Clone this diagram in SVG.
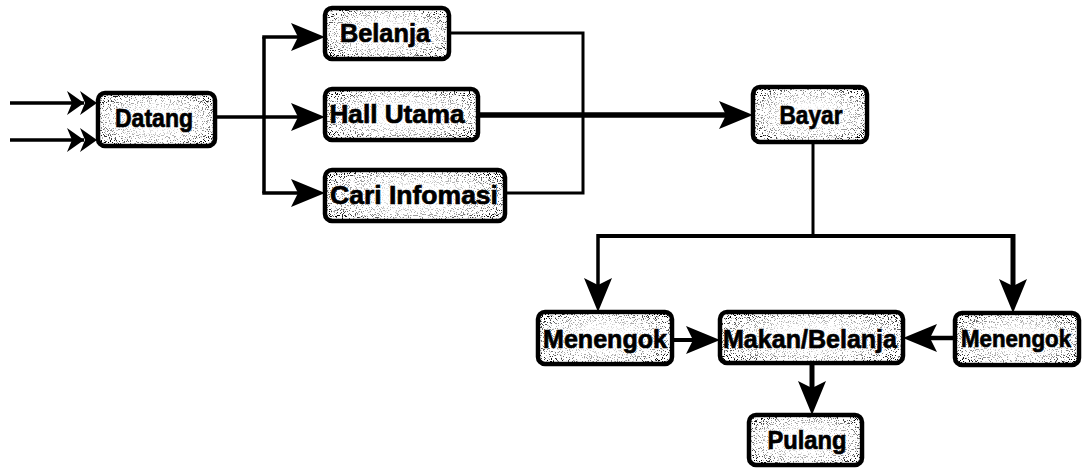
<svg xmlns="http://www.w3.org/2000/svg" width="1085" height="469" viewBox="0 0 1085 469">
  <style>
    .box { fill: #ffffff; stroke: #000; stroke-width: 4.5; }
    .tex { fill: #000; filter: url(#grain); }
    .lite { fill: url(#fade); }
    .lbl { font-family: "Liberation Sans", Arial, sans-serif; font-weight: bold; font-size: 26px; fill: #000; stroke: #000; stroke-width: 0.7; text-anchor: middle; }
    .ln { fill: none; stroke: #000; stroke-linejoin: miter; stroke-linecap: butt; }
  </style>
  <defs>
    <!-- speckled stipple used inside every box -->
    <filter id="grain" x="0" y="0" width="1" height="1">
      <feTurbulence type="fractalNoise" baseFrequency="0.85" numOctaves="2" seed="7" result="n"/>
      <feColorMatrix in="n" type="matrix" values="0 0 0 0 0  0 0 0 0 0  0 0 0 0 0  -14 0 0 0 6.0" result="dots"/>
      <feComposite in="dots" in2="SourceGraphic" operator="in"/>
    </filter>
    <!-- lightens the stipple toward the middle of a box -->
    <radialGradient id="fade" cx="0.5" cy="0.5" r="0.62">
      <stop offset="0.3" stop-color="#fff" stop-opacity="0.92"/>
      <stop offset="0.75" stop-color="#fff" stop-opacity="0.55"/>
      <stop offset="1" stop-color="#fff" stop-opacity="0"/>
    </radialGradient>
    <marker id="head" markerUnits="userSpaceOnUse" viewBox="-10 -16 38 32" markerWidth="38" markerHeight="32" refX="0" refY="0" orient="auto" overflow="visible">
      <path d="M-8,-14 L26,0 L-8,14 L-1,0 Z" fill="#000"/>
    </marker>
    <marker id="dbl" markerUnits="userSpaceOnUse" viewBox="-20 -13 36 26" markerWidth="36" markerHeight="26" refX="0" refY="0" orient="auto" overflow="visible">
      <path d="M-4,-12 L13,0 L-4,12 L1,0 Z M-17,-12 L0,0 L-17,12 L-12,0 Z" fill="#000"/>
    </marker>
  </defs>

  <g id="connectors">
    <!-- incoming -->
    <path class="ln" d="M10,103 H84" stroke-width="3.5" marker-end="url(#dbl)"/>
    <path class="ln" d="M10,140 H84" stroke-width="3.5" marker-end="url(#dbl)"/>
    <!-- Datang fan-out -->
    <path class="ln" d="M215,117 H299" stroke-width="3.5" marker-end="url(#head)"/>
    <path class="ln" d="M264,37 V193" stroke-width="3.5"/>
    <path class="ln" d="M262.25,37 H299" stroke-width="3.5" marker-end="url(#head)"/>
    <path class="ln" d="M262.25,193 H299" stroke-width="3.5" marker-end="url(#head)"/>
    <!-- merge to Bayar -->
    <path class="ln" d="M449,33 H583 V193 H505" stroke-width="3"/>
    <path class="ln" d="M478,115 H727" stroke-width="5.5" marker-end="url(#head)"/>
    <!-- Bayar split -->
    <path class="ln" d="M813,142 V236" stroke-width="3"/>
    <path class="ln" d="M598,236 H1013" stroke-width="4"/>
    <path class="ln" d="M598,234 V286" stroke-width="3.5" marker-end="url(#head)"/>
    <path class="ln" d="M1013,234 V287" stroke-width="5" marker-end="url(#head)"/>
    <!-- into Makan/Belanja -->
    <path class="ln" d="M672,340 H694" stroke-width="4" marker-end="url(#head)"/>
    <path class="ln" d="M955,338 H929" stroke-width="4.5" marker-end="url(#head)"/>
    <path class="ln" d="M812,363 V389" stroke-width="5" marker-end="url(#head)"/>
  </g>

  <g id="datang">
    <rect class="box" x="98" y="93" width="117" height="53" rx="7"/>
    <rect class="tex" x="100" y="95" width="113" height="49" rx="5"/>
    <rect class="lite" x="100" y="95" width="113" height="49" rx="5"/>
    <text class="lbl" x="154" y="127" textLength="78" lengthAdjust="spacingAndGlyphs">Datang</text>
  </g>
  <g id="belanja">
    <rect class="box" x="325" y="8" width="124" height="51" rx="7"/>
    <rect class="tex" x="327" y="10" width="120" height="47" rx="5"/>
    <rect class="lite" x="327" y="10" width="120" height="47" rx="5"/>
    <text class="lbl" x="385" y="42" textLength="90" lengthAdjust="spacingAndGlyphs">Belanja</text>
  </g>
  <g id="hall-utama">
    <rect class="box" x="325" y="89" width="153" height="51" rx="7"/>
    <rect class="tex" x="327" y="91" width="149" height="47" rx="5"/>
    <rect class="lite" x="327" y="91" width="149" height="47" rx="5"/>
    <text class="lbl" x="397" y="123" textLength="135" lengthAdjust="spacingAndGlyphs">Hall Utama</text>
  </g>
  <g id="cari-infomasi">
    <rect class="box" x="325" y="170" width="180" height="51" rx="7"/>
    <rect class="tex" x="327" y="172" width="176" height="47" rx="5"/>
    <rect class="lite" x="327" y="172" width="176" height="47" rx="5"/>
    <text class="lbl" x="414" y="204" textLength="168" lengthAdjust="spacingAndGlyphs">Cari Infomasi</text>
  </g>
  <g id="bayar">
    <rect class="box" x="753" y="87" width="114" height="55" rx="7"/>
    <rect class="tex" x="755" y="89" width="110" height="51" rx="5"/>
    <rect class="lite" x="755" y="89" width="110" height="51" rx="5"/>
    <text class="lbl" x="811" y="124" textLength="63" lengthAdjust="spacingAndGlyphs">Bayar</text>
  </g>
  <g id="menengok-kiri">
    <rect class="box" x="538" y="312" width="134" height="52" rx="7"/>
    <rect class="tex" x="540" y="314" width="130" height="48" rx="5"/>
    <rect class="lite" x="540" y="314" width="130" height="48" rx="5"/>
    <text class="lbl" x="605" y="348" textLength="124" lengthAdjust="spacingAndGlyphs">Menengok</text>
  </g>
  <g id="makan-belanja">
    <rect class="box" x="720" y="312" width="183" height="51" rx="7"/>
    <rect class="tex" x="722" y="314" width="179" height="47" rx="5"/>
    <rect class="lite" x="722" y="314" width="179" height="47" rx="5"/>
    <text class="lbl" x="810" y="348" textLength="174" lengthAdjust="spacingAndGlyphs">Makan/Belanja</text>
  </g>
  <g id="menengok-kanan">
    <rect class="box" x="955" y="313" width="124" height="52" rx="7"/>
    <rect class="tex" x="957" y="315" width="120" height="48" rx="5"/>
    <rect class="lite" x="957" y="315" width="120" height="48" rx="5"/>
    <text class="lbl" x="1016" y="347" style="font-size:23px" textLength="110" lengthAdjust="spacingAndGlyphs">Menengok</text>
  </g>
  <g id="pulang">
    <rect class="box" x="749" y="415" width="113" height="50" rx="7"/>
    <rect class="tex" x="751" y="417" width="109" height="46" rx="5"/>
    <rect class="lite" x="751" y="417" width="109" height="46" rx="5"/>
    <text class="lbl" x="807" y="449" textLength="79" lengthAdjust="spacingAndGlyphs">Pulang</text>
  </g>
</svg>
